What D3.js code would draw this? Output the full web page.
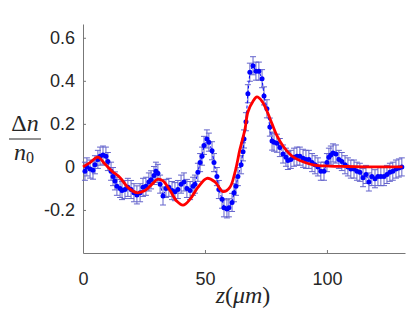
<!DOCTYPE html>
<html>
<head>
<meta charset="utf-8">
<script src="https://cdn.jsdelivr.net/npm/d3@7"></script>
<style>
  body { margin: 0; background: #fff; }
  svg { display: block; }
  .tex { font-family: "Liberation Serif", "DejaVu Serif", serif; }
</style>
</head>
<body>
<div id="chart"></div>
<script>
// measured points (z in um, relative index change)
const zData = [0.8, 1.6, 2.9, 4.1, 4.9, 6.1, 7.0, 8.2, 9.4, 10.2, 11.5, 12.3, 13.1, 13.9, 15.2, 16.0,
  17.2, 18.4, 19.7, 20.9, 22.1, 23.4, 24.6, 25.8, 27.0, 27.9, 29.1, 29.9, 30.7, 31.6, 32.8, 34.0,
  35.2, 36.5, 37.7, 38.9, 40.2, 41.4, 42.6, 43.9, 45.1, 45.9, 47.1, 48.0, 48.8, 49.6, 50.8, 51.6,
  52.9, 53.7, 54.9, 55.7, 57.0, 57.8, 59.0, 59.8, 61.1, 61.9, 62.7, 63.5, 64.8, 65.6, 66.0, 66.8,
  67.6, 68.4, 69.7, 70.9, 72.1, 73.4, 74.2, 75.4, 76.6, 77.5, 78.3, 79.5, 80.7, 82.0, 83.2, 84.0,
  85.2, 86.5, 87.7, 88.9, 90.2, 91.4, 92.6, 93.9, 95.1, 96.3, 97.5, 98.8, 100.0, 100.8, 101.6, 102.5,
  103.7, 104.9, 106.1, 107.4, 108.6, 109.8, 111.1, 112.3, 113.5, 114.8, 116.0, 117.2, 118.4, 119.7,
  120.9, 122.1, 123.4, 124.6, 125.8, 127.0, 128.3, 129.5, 130.7];
const dnData = [-0.02, 0.00, -0.01, -0.015, 0.01, 0.035, 0.05, 0.055, 0.05, 0.025, -0.02, -0.045, -0.065, -0.09, -0.10, -0.11,
  -0.105, -0.095, -0.105, -0.12, -0.13, -0.12, -0.095, -0.09, -0.07, -0.06, -0.04, -0.02, -0.03, -0.08, -0.135, -0.10,
  -0.095, -0.11, -0.115, -0.105, -0.08, -0.07, -0.10, -0.11, -0.09, -0.08, -0.025, 0.02, 0.05, 0.10, 0.13, 0.115,
  0.075, 0.02, -0.045, -0.105, -0.15, -0.19, -0.195, -0.19, -0.165, -0.12, -0.09, -0.045, 0.01, 0.07, 0.13, 0.21,
  0.34, 0.44, 0.47, 0.445, 0.445, 0.41, 0.33, 0.27, 0.185, 0.12, 0.115, 0.11, 0.09, 0.06, 0.045, 0.03,
  0.035, 0.045, 0.05, 0.05, 0.04, 0.035, 0.035, 0.02, 0.01, 0.00, -0.02, -0.02, 0.02, 0.045, 0.055, 0.065,
  0.06, 0.035, 0.025, 0.01, 0.00, -0.01, -0.01, -0.02, -0.025, -0.05, -0.035, -0.07, -0.045, -0.055,
  -0.045, -0.045, -0.045, -0.035, -0.025, -0.02, -0.01, -0.005, 0.00];
const errData = zData.map(() => 0.042);

// fitted model curve
const zFit = [0, 2.9, 6.1, 9.0, 11.9, 15.2, 18.4, 22.1, 25.4, 28.3, 30.7, 32.8, 35.7, 38.5, 41.0, 43.9,
  47.1, 50.8, 54.1, 57.4, 60.2, 62.3, 64.3, 66.4, 67.6, 69.7, 71.3, 73.4, 75.4, 77.5, 79.5, 82.0,
  85.7, 88.9, 94.3, 101, 108, 120, 131];
const dnFit = [0.0, 0.02, 0.045, 0.013, -0.02, -0.05, -0.095, -0.12, -0.11, -0.08, -0.057, -0.065, -0.11, -0.16, -0.178, -0.15,
  -0.095, -0.053, -0.07, -0.115, -0.095, -0.025, 0.08, 0.175, 0.255, 0.305, 0.325, 0.305, 0.26, 0.2, 0.145, 0.097,
  0.05, 0.03, 0.01, 0.004, 0.002, 0.0, 0.0];

const xTicks = [0, 50, 100];
const yTicks = [-0.2, 0, 0.2, 0.4, 0.6];

const width = 415, height = 312;
const margin = {top: 24, right: 10, bottom: 59, left: 83};

const svg = d3.select('#chart').append('svg')
  .attr('width', width)
  .attr('height', height)
  .attr('viewBox', `0 0 ${width} ${height}`);

const x = d3.scaleLinear()
  .domain([0, 132])
  .range([margin.left, width - margin.right]);

const y = d3.scaleLinear()
  .domain([-0.4, 0.664])
  .range([height - margin.bottom, margin.top]);

const axisColor = '#777';
const labelColor = '#262626';
const tickFont = '"Liberation Sans", Arial, sans-serif';

const xAxis = g => g
  .attr('transform', `translate(0,${height - margin.bottom})`)
  .call(d3.axisBottom(x).tickValues(xTicks).tickSize(-3).tickPadding(19).tickSizeOuter(0).tickFormat(d => d))
  .call(g => g.select('.domain').attr('stroke', axisColor))
  .call(g => g.selectAll('.tick line').attr('stroke', axisColor))
  .call(g => g.selectAll('.tick text')
      .attr('fill', labelColor)
      .attr('font-family', tickFont)
      .attr('font-size', 18));

const yAxis = g => g
  .attr('transform', `translate(${margin.left},0)`)
  .call(d3.axisLeft(y).tickValues(yTicks).tickSize(-3).tickPadding(8).tickSizeOuter(0).tickFormat(d => d))
  .call(g => g.select('.domain').attr('stroke', axisColor))
  .call(g => g.selectAll('.tick line').attr('stroke', axisColor))
  .call(g => g.selectAll('.tick text')
      .attr('fill', labelColor)
      .attr('font-family', tickFont)
      .attr('font-size', 18));

svg.append('g').call(xAxis);
svg.append('g').call(yAxis);

const points = zData.map((z, i) => ({z, v: dnData[i], e: errData[i]}));

// error bars
const err = svg.append('g')
    .attr('stroke', '#6464cc')
    .attr('stroke-width', 1)
  .selectAll('g')
  .data(points)
  .join('g');

err.append('line')
    .attr('x1', d => x(d.z)).attr('x2', d => x(d.z))
    .attr('y1', d => y(d.v - d.e)).attr('y2', d => y(d.v + d.e));
err.append('line')
    .attr('x1', d => x(d.z) - 3).attr('x2', d => x(d.z) + 3)
    .attr('y1', d => y(d.v + d.e)).attr('y2', d => y(d.v + d.e));
err.append('line')
    .attr('x1', d => x(d.z) - 3).attr('x2', d => x(d.z) + 3)
    .attr('y1', d => y(d.v - d.e)).attr('y2', d => y(d.v - d.e));

// dashed connection between measured points
svg.append('path')
    .datum(points)
    .attr('fill', 'none')
    .attr('stroke', '#0000ff')
    .attr('stroke-width', 1)
    .attr('stroke-dasharray', '3,2')
    .attr('d', d3.line().x(d => x(d.z)).y(d => y(d.v)));

svg.append('g')
    .attr('fill', '#0000ff')
  .selectAll('circle')
  .data(points)
  .join('circle')
    .attr('cx', d => x(d.z))
    .attr('cy', d => y(d.v))
    .attr('r', 2.5);

// fit
const fit = zFit.map((z, i) => ({z, v: dnFit[i]}));
svg.append('path')
    .datum(fit)
    .attr('fill', 'none')
    .attr('stroke', '#ff0000')
    .attr('stroke-width', 2.8)
    .attr('stroke-linejoin', 'round')
    .attr('d', d3.line().curve(d3.curveCatmullRom).x(d => x(d.z)).y(d => y(d.v)));

// axis labels (LaTeX-like)
const xl = svg.append('text')
    .attr('class', 'tex')
    .attr('x', 243)
    .attr('y', 303)
    .attr('text-anchor', 'middle')
    .style('font-size', '24px')
    .attr('fill', labelColor);
xl.append('tspan').style('font-style', 'italic').text('z');
xl.append('tspan').text('(');
xl.append('tspan').style('font-style', 'italic').text('μm');
xl.append('tspan').text(')');

const yl = svg.append('g')
    .attr('class', 'tex')
    .style('font-size', '24px')
    .attr('fill', labelColor)
    .attr('text-anchor', 'middle');
const num = yl.append('text').attr('x', 25).attr('y', 131);
num.append('tspan').text('Δ');
num.append('tspan').style('font-style', 'italic').text('n');
yl.append('line')
    .attr('x1', 9).attr('x2', 41)
    .attr('y1', 139).attr('y2', 139)
    .attr('stroke', labelColor)
    .attr('stroke-width', 1);
const den = yl.append('text').attr('x', 24).attr('y', 160);
den.append('tspan').style('font-style', 'italic').text('n');
den.append('tspan').style('font-size', '16px').attr('dy', 3).text('0');
</script>
</body>
</html>
